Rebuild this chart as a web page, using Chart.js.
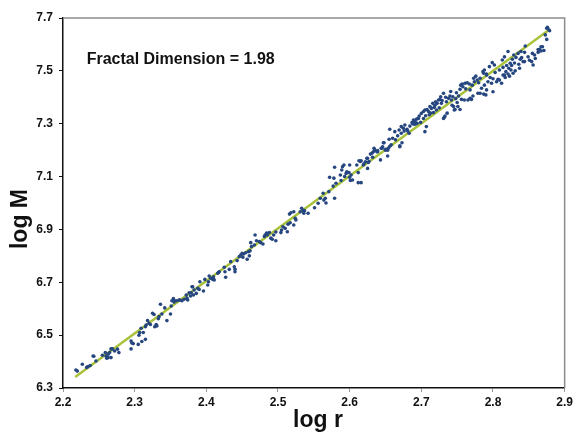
<!DOCTYPE html>
<html>
<head>
<meta charset="utf-8">
<style>
  html, body { margin: 0; padding: 0; background: #ffffff; }
  #wrap { width: 576px; height: 432px; }
</style>
<script src="https://cdn.jsdelivr.net/npm/chart.js@4/dist/chart.umd.min.js"></script>
</head>
<body>
<div id="wrap"><canvas id="fractalChart" width="576" height="432"></canvas></div>
<script>
// Data (log r, log M)
const logR = [
  2.218, 2.220, 2.227, 2.233, 2.235, 2.238, 2.242, 2.243, 2.246, 2.255, 2.259, 2.260, 2.261, 2.263, 2.263, 2.265, 2.267, 2.267, 2.269, 2.272, 2.276, 2.278,
  2.295, 2.295, 2.296, 2.298, 2.305, 2.306, 2.307, 2.309, 2.310, 2.312, 2.315, 2.316, 2.315, 2.318, 2.320, 2.322, 2.325, 2.327, 2.328, 2.330, 2.331, 2.333, 2.334,
  2.336, 2.338, 2.342, 2.345, 2.350, 2.351, 2.352, 2.354, 2.355, 2.356, 2.359, 2.362, 2.363, 2.366, 2.369, 2.372, 2.373, 2.374, 2.376, 2.378, 2.379, 2.380,
  2.381, 2.382, 2.383, 2.386, 2.388, 2.390, 2.391, 2.396, 2.398, 2.402, 2.403, 2.404, 2.406, 2.409, 2.410, 2.411, 2.416, 2.417, 2.418, 2.425, 2.426, 2.427,
  2.432, 2.434, 2.439, 2.440, 2.440, 2.443, 2.446, 2.448, 2.450, 2.451, 2.452, 2.455, 2.457, 2.459, 2.460, 2.461, 2.462, 2.463, 2.467, 2.468, 2.470, 2.474,
  2.476, 2.479, 2.481, 2.482, 2.484, 2.485, 2.488, 2.490, 2.492, 2.494, 2.497, 2.497, 2.504, 2.505, 2.507, 2.510, 2.513, 2.514, 2.517, 2.516, 2.518, 2.522,
  2.524, 2.522, 2.525, 2.531, 2.533, 2.535, 2.536, 2.537, 2.542, 2.551, 2.556, 2.559, 2.563, 2.564, 2.566, 2.567, 2.571, 2.572, 2.577, 2.578, 2.579, 2.579,
  2.581, 2.587, 2.588, 2.589, 2.590, 2.592, 2.593, 2.595, 2.596, 2.599, 2.600, 2.600, 2.601, 2.602, 2.604, 2.610, 2.612, 2.612, 2.613, 2.615, 2.616, 2.616,
  2.619, 2.620, 2.622, 2.624, 2.625, 2.625, 2.626, 2.627, 2.629, 2.631, 2.632, 2.633, 2.634, 2.635, 2.638, 2.639, 2.639, 2.643, 2.644, 2.645, 2.646, 2.647,
  2.648, 2.650, 2.650, 2.653, 2.653, 2.654, 2.655, 2.656, 2.656, 2.658, 2.660, 2.663, 2.664, 2.667, 2.669, 2.670, 2.670, 2.672, 2.672, 2.673, 2.675, 2.676,
  2.677, 2.680, 2.681, 2.683, 2.684, 2.687, 2.688, 2.689, 2.690, 2.691, 2.692, 2.693, 2.693, 2.694, 2.695, 2.696, 2.697, 2.699, 2.700, 2.703, 2.703, 2.705,
  2.705, 2.706, 2.707, 2.708, 2.710, 2.711, 2.712, 2.713, 2.714, 2.716, 2.717, 2.718, 2.719, 2.720, 2.721, 2.722, 2.724, 2.725, 2.726, 2.727, 2.728, 2.729,
  2.731, 2.731, 2.732, 2.733, 2.734, 2.735, 2.736, 2.738, 2.740, 2.741, 2.742, 2.743, 2.744, 2.745, 2.746, 2.747, 2.748, 2.749, 2.750, 2.751, 2.752, 2.754,
  2.754, 2.755, 2.756, 2.757, 2.758, 2.760, 2.761, 2.762, 2.764, 2.765, 2.767, 2.768, 2.768, 2.770, 2.771, 2.772, 2.773, 2.774, 2.776, 2.778, 2.779, 2.780,
  2.782, 2.782, 2.784, 2.786, 2.787, 2.787, 2.788, 2.788, 2.790, 2.791, 2.791, 2.791, 2.793, 2.795, 2.796, 2.798, 2.799, 2.800, 2.800, 2.802, 2.803, 2.805,
  2.807, 2.809, 2.809, 2.812, 2.813, 2.814, 2.814, 2.816, 2.816, 2.817, 2.818, 2.819, 2.821, 2.821, 2.822, 2.823, 2.824, 2.825, 2.826, 2.827, 2.828, 2.829,
  2.830, 2.831, 2.832, 2.835, 2.836, 2.837, 2.838, 2.839, 2.840, 2.842, 2.844, 2.844, 2.845, 2.849, 2.851, 2.854, 2.855, 2.856, 2.858, 2.859, 2.863, 2.863,
  2.865, 2.867, 2.867, 2.869, 2.871, 2.873, 2.875, 2.875, 2.876, 2.878, 2.879
];
const logM = [
  6.368, 6.364, 6.390, 6.378, 6.381, 6.385, 6.421, 6.420, 6.402, 6.424, 6.434, 6.421, 6.413, 6.415, 6.428, 6.434, 6.448, 6.415, 6.448, 6.440, 6.447, 6.434,
  6.478, 6.448, 6.470, 6.468, 6.465, 6.500, 6.510, 6.526, 6.476, 6.510, 6.532, 6.538, 6.484, 6.555, 6.545, 6.540, 6.583, 6.578, 6.532, 6.540, 6.535, 6.562, 6.570,
  6.617, 6.580, 6.603, 6.555, 6.580, 6.610, 6.630, 6.638, 6.625, 6.630, 6.630, 6.633, 6.633, 6.630, 6.636, 6.652, 6.640, 6.633, 6.660, 6.648, 6.660, 6.683,
  6.683, 6.652, 6.671, 6.658, 6.677, 6.673, 6.702, 6.667, 6.711, 6.690, 6.702, 6.724, 6.715, 6.711, 6.721, 6.709, 6.734, 6.737, 6.740, 6.757, 6.740, 6.719,
  6.749, 6.778, 6.759, 6.749, 6.740, 6.782, 6.797, 6.803, 6.810, 6.795, 6.807, 6.812, 6.787, 6.816, 6.800, 6.819, 6.850, 6.835, 6.841, 6.879, 6.857, 6.854,
  6.850, 6.845, 6.873, 6.879, 6.886, 6.879, 6.888, 6.867, 6.863, 6.879, 6.857, 6.890, 6.888, 6.898, 6.910, 6.904, 6.891, 6.920, 6.925, 6.958, 6.963, 6.967,
  6.942, 6.917, 6.936, 6.967, 6.980, 6.971, 6.961, 6.971, 6.961, 6.982, 6.999, 7.018, 7.037, 7.011, 7.018, 7.000, 7.043, 7.097, 7.064, 7.094, 7.018, 7.135,
  7.075, 7.106, 7.085, 7.125, 7.137, 7.144, 7.100, 7.112, 7.118, 7.115, 7.144, 7.097, 7.085, 7.106, 7.087, 7.144, 7.115, 7.077, 7.160, 7.157, 7.077, 7.160,
  7.144, 7.148, 7.156, 7.169, 7.131, 7.169, 7.153, 7.157, 7.185, 7.188, 7.173, 7.194, 7.207, 7.200, 7.194, 7.198, 7.194, 7.163, 7.207, 7.207, 7.213, 7.228,
  7.228, 7.200, 7.203, 7.178, 7.200, 7.207, 7.241, 7.279, 7.215, 7.220, 7.245, 7.270, 7.239, 7.254, 7.276, 7.216, 7.213, 7.289, 7.264, 7.228, 7.283, 7.272,
  7.295, 7.279, 7.272, 7.264, 7.291, 7.304, 7.300, 7.314, 7.298, 7.308, 7.299, 7.302, 7.317, 7.302, 7.320, 7.320, 7.329, 7.305, 7.339, 7.346, 7.320, 7.352,
  7.270, 7.330, 7.289, 7.354, 7.346, 7.334, 7.365, 7.340, 7.358, 7.377, 7.342, 7.362, 7.370, 7.383, 7.352, 7.377, 7.390, 7.360, 7.392, 7.402, 7.377, 7.388,
  7.415, 7.320, 7.324, 7.329, 7.400, 7.383, 7.340, 7.396, 7.405, 7.422, 7.390, 7.370, 7.402, 7.365, 7.352, 7.354, 7.395, 7.417, 7.380, 7.365, 7.405, 7.430,
  7.354, 7.446, 7.392, 7.450, 7.440, 7.390, 7.453, 7.432, 7.455, 7.390, 7.450, 7.428, 7.396, 7.392, 7.446, 7.405, 7.472, 7.459, 7.480, 7.465, 7.415, 7.455,
  7.415, 7.472, 7.434, 7.497, 7.491, 7.412, 7.503, 7.446, 7.409, 7.488, 7.484, 7.428, 7.459, 7.516, 7.475, 7.453, 7.531, 7.470, 7.421, 7.522, 7.494, 7.459,
  7.468, 7.503, 7.465, 7.453, 7.541, 7.484, 7.513, 7.553, 7.484, 7.475, 7.497, 7.520, 7.573, 7.488, 7.510, 7.480, 7.529, 7.503, 7.520, 7.544, 7.491, 7.560,
  7.530, 7.500, 7.551, 7.566, 7.525, 7.510, 7.544, 7.573, 7.550, 7.535, 7.570, 7.535, 7.594, 7.553, 7.540, 7.535, 7.566, 7.522, 7.560, 7.547, 7.570, 7.581,
  7.581, 7.591, 7.575, 7.591, 7.577, 7.636, 7.619, 7.661, 7.665, 7.655, 7.652
];

// Fitted power-law line (endpoints as drawn in the reference)
const fitR = [2.217, 2.877];
const fitM = [6.342, 7.653];

const xTicks = [2.2, 2.3, 2.4, 2.5, 2.6, 2.7, 2.8, 2.9];
const yTicks = [6.3, 6.5, 6.7, 6.9, 7.1, 7.3, 7.5, 7.7];

const annotationText = 'Fractal Dimension = 1.98';
const annotationAt = { x: 2.233, y: 7.541 };
const xTitle = 'log r';
const yTitle = 'log M';

const FONT = '"Liberation Sans", Arial, sans-serif';

// Grey frame on top/right, the text label and the two axis titles
const framePlugin = {
    id: 'framePlugin',
    afterDatasetsDraw(chart) {
        const { ctx, chartArea, scales } = chart;
        ctx.save();
        ctx.strokeStyle = '#8c8c8c';
        ctx.lineWidth = 1.5;
        ctx.beginPath();
        ctx.moveTo(chartArea.left, chartArea.top);
        ctx.lineTo(chartArea.right, chartArea.top);
        ctx.lineTo(chartArea.right, chartArea.bottom);
        ctx.stroke();

        ctx.fillStyle = '#111111';
        ctx.font = 'bold 16px ' + FONT;
        ctx.textAlign = 'left';
        ctx.textBaseline = 'middle';
        ctx.fillText(annotationText, scales.x.getPixelForValue(annotationAt.x), scales.y.getPixelForValue(annotationAt.y));

        // axis titles
        ctx.font = 'bold 23px ' + FONT;
        ctx.textAlign = 'center';
        ctx.fillText(xTitle, 318, 421);
        ctx.translate(21, 219);
        ctx.rotate(-Math.PI / 2);
        ctx.fillText(yTitle, 0, 0);
        ctx.restore();
    }
};

const points = logR.map((r, i) => ({ x: r, y: logM[i] }));
const fitLine = fitR.map((r, i) => ({ x: r, y: fitM[i] }));

new Chart(document.getElementById('fractalChart'), {
    type: 'scatter',
    data: {
        datasets: [
            {
                label: 'Fit',
                type: 'line',
                data: fitLine,
                borderColor: '#a8c23a',
                borderWidth: 2.5,
                pointRadius: 0,
                fill: false,
                order: 2
            },
            {
                label: 'Data',
                data: points,
                backgroundColor: '#25467f',
                borderColor: '#25467f',
                pointRadius: 1.8,
                pointBorderWidth: 0,
                order: 1
            }
        ]
    },
    options: {
        responsive: false,
        animation: false,
        layout: { padding: { left: 0, right: 9, top: 18, bottom: 0 } },
        plugins: {
            legend: { display: false },
            tooltip: { enabled: false }
        },
        scales: {
            x: {
                type: 'linear',
                min: 2.2,
                max: 2.9,
                afterBuildTicks: (scale) => { scale.ticks = xTicks.map(v => ({ value: v })); },
                afterFit: (scale) => { scale.height = 44; },
                ticks: {
                    color: '#111111',
                    font: { family: FONT, size: 12, weight: 'bold' },
                    padding: 3,
                    maxRotation: 0,
                    callback: (v) => v.toFixed(1)
                },
                grid: { drawOnChartArea: false, drawTicks: true, tickLength: 4, color: '#999999' },
                border: { color: '#111111', width: 1.5 }
            },
            y: {
                type: 'linear',
                min: 6.3,
                max: 7.7,
                afterBuildTicks: (scale) => { scale.ticks = yTicks.map(v => ({ value: v })); },
                afterFit: (scale) => { scale.width = 63; },
                ticks: {
                    color: '#111111',
                    font: { family: FONT, size: 12, weight: 'bold' },
                    padding: 6,
                    callback: (v) => v.toFixed(1)
                },
                grid: { drawOnChartArea: false, drawTicks: true, tickLength: 4, color: '#111111' },
                border: { color: '#111111', width: 1.5 }
            }
        }
    },
    plugins: [framePlugin]
});
</script>
</body>
</html>
